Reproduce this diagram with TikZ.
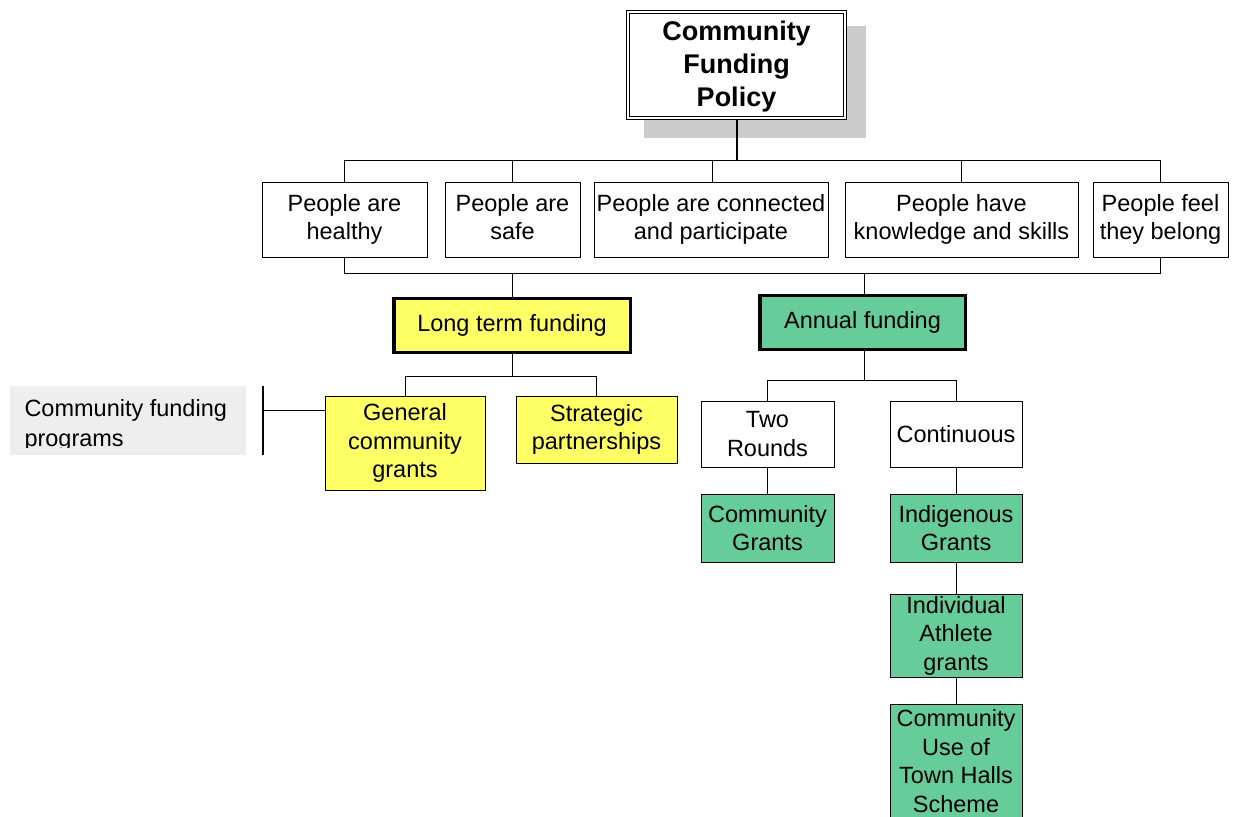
\documentclass[tikz,border=0pt]{standalone}
\usepackage{fontspec}
\setmainfont{Liberation Sans}
\usetikzlibrary{backgrounds,positioning,calc}
\definecolor{ltyellow}{HTML}{FFFF66}
\definecolor{fundgreen}{HTML}{66CC99}
\definecolor{shadowgray}{HTML}{CCCCCC}
\definecolor{progfill}{HTML}{EEEEEE}

\begin{document}
\begin{tikzpicture}[x=1pt,y=-1pt,line width=1pt,align=center,
  font=\fontsize{23.5}{28.5}\selectfont]
\tikzstyle{box}=[draw=black,fill=white,inner sep=0pt]
\tikzstyle{outcome}=[box,minimum height=75pt]
\tikzstyle{stream}=[box,line width=3.5pt,minimum height=54pt]
\tikzstyle{yellowbox}=[box,fill=ltyellow]
\tikzstyle{greenbox}=[box,fill=fundgreen]
\tikzstyle{link}=[-,line width=1pt]

\useasboundingbox (0,0) rectangle (1236,816);

\node[box,double,double distance=2pt,minimum width=217pt,minimum height=106pt,
  font=\fontsize{27}{33}\selectfont\bfseries] (policy) at (736.5,65) {\rule{0pt}{23pt}Community\\Funding\\Policy};
\begin{scope}[on background layer]
\fill[shadowgray] ($(policy.south west)+(16,19)$) rectangle ($(policy.north east)+(20,15)$);
\end{scope}

\node[outcome,minimum width=165pt] (healthy) at (344.5,219.5) {People are\\healthy};
\node[outcome,minimum width=135pt] (safe) at (512.5,219.5) {People are\\safe\vphantom{y}};
\node[outcome,minimum width=234pt] (connected) at (711,219.5) {People are connected\\and participate};
\node[outcome,minimum width=233pt] (skills) at (961.5,219.5) {People have\\knowledge and skills};
\node[outcome,minimum width=135pt] (belong) at (1160.5,219.5) {People feel\\they belong};

\node[stream,fill=ltyellow,minimum width=236.5pt] (longterm) at (512,325.5) {Long term funding};
\node[stream,fill=fundgreen,minimum width=205.5pt] (annual) at (862.5,322.5) {Annual funding\vphantom{y}};

\node[yellowbox,minimum width=160pt,minimum height=94pt] (general) at (405,443) {General\\community\\grants};
\node[yellowbox,minimum width=161pt,minimum height=67pt] (strategic) at (596.5,429.5) {Strategic\\partnerships};

\node[box,minimum width=133pt,minimum height=66pt] (tworounds) at (767.5,434) {Two\\Rounds};
\node[box,minimum width=132pt,minimum height=66pt] (continuous) at (956,434) {Continuous};

\node[greenbox,minimum width=133pt,minimum height=68pt] (commgrants) at (767.5,528) {Community\\Grants};
\node[greenbox,minimum width=132pt,minimum height=68pt] (indigenous) at (956,528) {Indigenous\\Grants};
\node[greenbox,minimum width=132pt,minimum height=83pt] (athlete) at (956,635.5) {Individual\\Athlete\\grants};
\node[greenbox,minimum width=132pt,minimum height=114pt] (townhalls) at (956,761) {Community\\Use of\\Town Halls\\Scheme};

\coordinate (topbus) at (0,160);
\coordinate (lowbus) at (0,273);
\coordinate (longbus) at (0,376);
\coordinate (annualbus) at (0,380);

\draw[line width=2pt] (policy.south) -- (policy.south |- topbus);
\draw[link] (healthy.north) -- (healthy.north |- topbus) -- (belong.north |- topbus) -- (belong.north);
\draw[link] (safe.north) -- (safe.north |- topbus);
\draw[link] ([xshift=1pt]connected.north) -- ([xshift=1pt]connected.north |- topbus);
\draw[link] (skills.north) -- (skills.north |- topbus);

\draw[link] (healthy.south) -- (healthy.south |- lowbus) -- (belong.south |- lowbus) -- (belong.south);
\draw[link] (longterm.north) -- (longterm.north |- lowbus);
\draw[link] ([xshift=1.5pt]annual.north) -- ([xshift=1.5pt]annual.north |- lowbus);

\draw[link] (longterm.south) -- (longterm.south |- longbus);
\draw[link] (general.north) -- (general.north |- longbus) -- (strategic.north |- longbus) -- (strategic.north);

\draw[link] ([xshift=1.5pt]annual.south) -- ([xshift=1.5pt]annual.south |- annualbus);
\draw[link] (tworounds.north) -- (tworounds.north |- annualbus) -- (continuous.north |- annualbus) -- (continuous.north);

\draw[link] (tworounds) -- (commgrants);
\draw[link] (continuous) -- (indigenous);
\draw[link] (indigenous) -- (athlete);
\draw[link] (athlete) -- (townhalls);

\fill[progfill] (10,386) rectangle (246,455);
\begin{scope}
\clip (10,386) rectangle (246,447);
\node[anchor=north west,inner sep=0pt,align=left,font=\fontsize{23.5}{30}\selectfont] (programs) at (24,399) {Community funding\\programs};
\end{scope}
\coordinate (bartop) at (263,386);
\coordinate (barbottom) at (263,455);
\coordinate (barmid) at (263,410);
\draw[line width=2pt] (bartop) -- (barbottom);
\draw[link] (barmid) -- (general.west |- barmid);
\end{tikzpicture}
\end{document}
